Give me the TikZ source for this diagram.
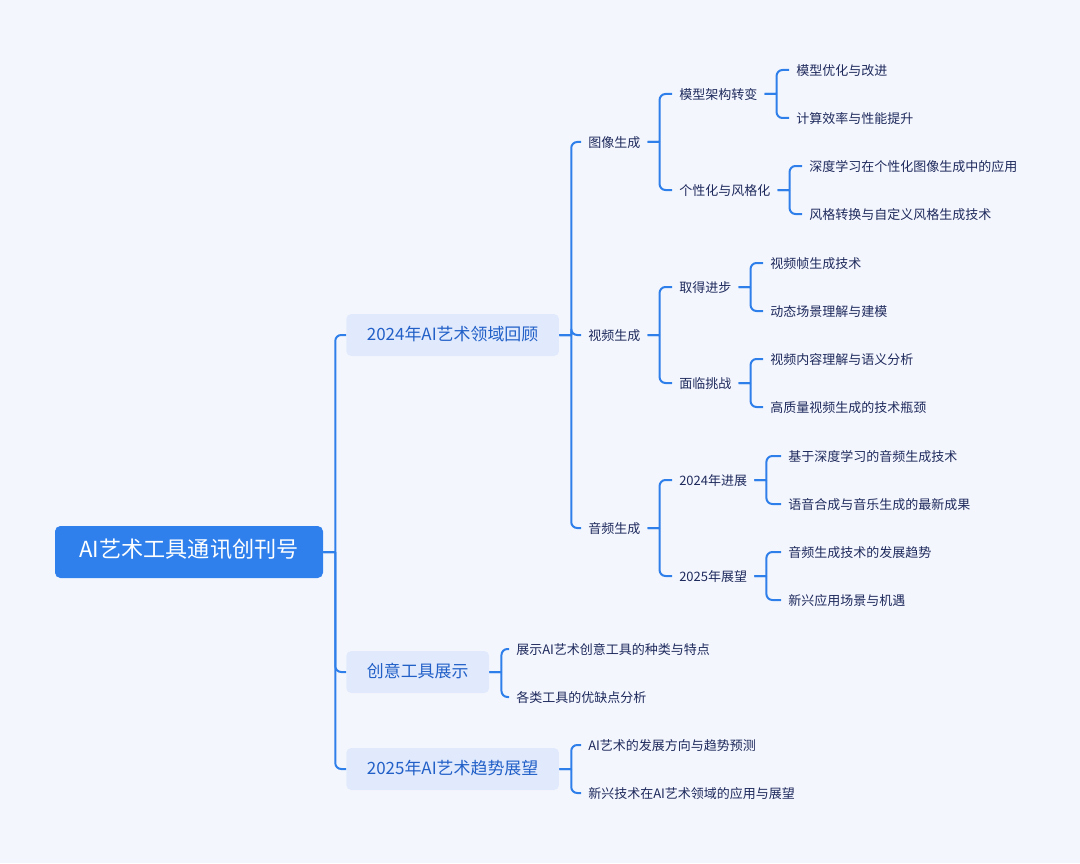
\documentclass[tikz,border=0pt]{standalone}
\usepackage{fontspec}
\setmainfont{Noto Sans CJK SC}
\usepackage{xcolor}
\definecolor{bgcol}{HTML}{F4F6FE}
\definecolor{linecol}{HTML}{2F7FEA}
\definecolor{rootcol}{HTML}{2F80EC}
\definecolor{subcol}{HTML}{E1EAFC}
\definecolor{subtext}{HTML}{2260C8}
\definecolor{leaftext}{HTML}{1E2A5C}

\tikzset{
	leaf/.style={anchor=west, inner xsep=5.25pt, inner ysep=0pt, text height=0.88em, text depth=0.12em, font=\fontsize{9.75}{11}\selectfont, text=leaftext},
	subbox/.style={anchor=west, fill=subcol, rounded corners=3.75pt, inner xsep=15.5pt, inner ysep=0pt, minimum height=31.5pt, text height=0.88em, text depth=0.12em, font=\fontsize{12.7}{14}\selectfont, text=subtext},
	rootbox/.style={fill=rootcol, rounded corners=4pt, minimum width=201pt, minimum height=39pt, text height=0.88em, text depth=0.12em, font=\fontsize{16.6}{18}\selectfont, text=white},
	bracket/.style={draw=linecol, line width=1.5pt, to path={(\tikztostart.east) -- ++(12,0) (\tikztostart.east) ++(12,0) [rounded corners=4.5pt] |- (\tikztotarget.west)}}
}

\begin{document}
\begin{tikzpicture}[x=0.75pt, y=-0.75pt]
			\fill[bgcol] (0,0) rectangle (1080,863);
			\useasboundingbox (0,0) rectangle (1080,863);

			\node[rootbox] (root) at (189,552) {AI艺术工具通讯创刊号};

			\node[subbox] (review) at (346,335) {2024年AI艺术领域回顾};
			\node[subbox] (tools) at (346,672) {创意工具展示};
			\node[subbox] (trend) at (346,769) {2025年AI艺术趋势展望};

			\node[leaf] (image) at (581,142) {图像生成};
			\node[leaf] (video) at (581,335) {视频生成};
			\node[leaf] (audio) at (581,528) {音频生成};

			\node[leaf] (arch) at (672,94) {模型架构转变};
			\node[leaf] (style) at (672,190) {个性化与风格化};
			\node[leaf] (progress) at (672,287) {取得进步};
			\node[leaf] (challenge) at (672,383) {面临挑战};
			\node[leaf] (audionow) at (672,480) {2024年进展};
			\node[leaf] (audionext) at (672,576) {2025年展望};

			\node[leaf] (arch1) at (789,70) {模型优化与改进};
			\node[leaf] (arch2) at (789,118) {计算效率与性能提升};
			\node[leaf] (style1) at (802,166) {深度学习在个性化图像生成中的应用};
			\node[leaf] (style2) at (802,214) {风格转换与自定义风格生成技术};
			\node[leaf] (progress1) at (763,263) {视频帧生成技术};
			\node[leaf] (progress2) at (763,311) {动态场景理解与建模};
			\node[leaf] (challenge1) at (763,359) {视频内容理解与语义分析};
			\node[leaf] (challenge2) at (763,407) {高质量视频生成的技术瓶颈};
			\node[leaf] (audionow1) at (781,456) {基于深度学习的音频生成技术};
			\node[leaf] (audionow2) at (781,504) {语音合成与音乐生成的最新成果};
			\node[leaf] (audionext1) at (781,552) {音频生成技术的发展趋势};
			\node[leaf] (audionext2) at (781,600) {新兴应用场景与机遇};

			\node[leaf] (tools1) at (509,649) {展示AI艺术创意工具的种类与特点};
			\node[leaf] (tools2) at (509,697) {各类工具的优缺点分析};
			\node[leaf] (trend1) at (581,745) {AI艺术的发展方向与趋势预测};
			\node[leaf] (trend2) at (581,793) {新兴技术在AI艺术领域的应用与展望};

			\path[bracket]
				(root) edge (review)
				(root) edge (tools)
				(root) edge (trend)

				(review) edge (image)
				(review) edge (video)
				(review) edge (audio)

				(image) edge (arch)
				(image) edge (style)
				(video) edge (progress)
				(video) edge (challenge)
				(audio) edge (audionow)
				(audio) edge (audionext)

				(arch) edge (arch1)
				(arch) edge (arch2)
				(style) edge (style1)
				(style) edge (style2)
				(progress) edge (progress1)
				(progress) edge (progress2)
				(challenge) edge (challenge1)
				(challenge) edge (challenge2)
				(audionow) edge (audionow1)
				(audionow) edge (audionow2)
				(audionext) edge (audionext1)
				(audionext) edge (audionext2)

				(tools) edge (tools1)
				(tools) edge (tools2)
				(trend) edge (trend1)
				(trend) edge (trend2)
			;
		\end{tikzpicture}
\end{document}
